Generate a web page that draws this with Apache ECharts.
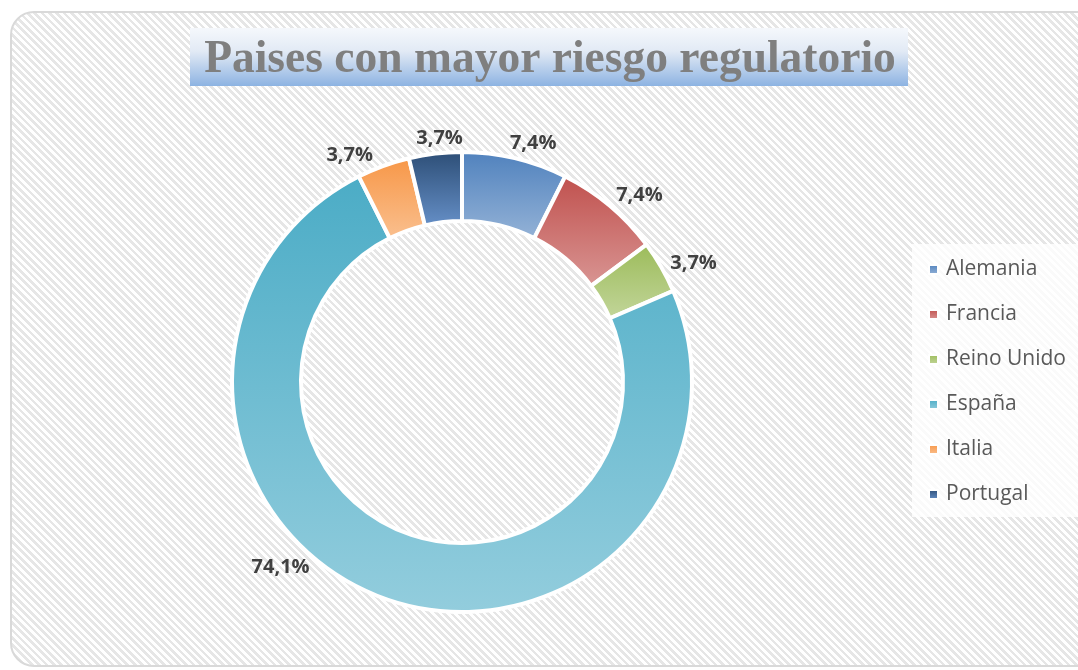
<!DOCTYPE html>
<html>
<head>
<meta charset="utf-8">
<title>Paises con mayor riesgo regulatorio</title>
<script src="https://cdn.jsdelivr.net/npm/echarts@6/dist/echarts.min.js"></script>
<style>
  html, body { margin: 0; padding: 0; background: #fff; }
  .wrap { position: relative; width: 1078px; height: 670px; overflow: hidden; }
  .frame {
    position: absolute; left: 10px; top: 11px; width: 1100px; height: 652px;
    border: 2px solid #d9d9d9; border-radius: 24px;
    background: repeating-linear-gradient(45deg, #ffffff 0px, #ffffff 2.6px, #e6e6e6 2.6px, #e6e6e6 5.2px);
  }
  #main { position: absolute; left: 0; top: 0; width: 1078px; height: 670px; }
</style>
</head>
<body>
<div class="wrap">
  <div class="frame"></div>
  <div id="main"></div>
</div>
<script>
// datos
var categories = ['Alemania', 'Francia', 'Reino Unido', 'España', 'Italia', 'Portugal']
var counts = [2, 2, 1, 20, 1, 1]

// colores (arriba -> abajo del degradado)
var topColors = ['#4F81BD', '#C0504D', '#9BBB59', '#4BACC6', '#F79646', '#2C4D75']
var bottomColors = ['#95B3D7', '#D99694', '#C3D69B', '#93CDDD', '#FAC090', '#6690C8']

var center = [462, 382]
var outerRadius = 228
var labelGap = 9
// ajuste manual de etiquetas (grados / px), como en la hoja original
var labelShift = { 0: 3, 1: 3, 2: 2, 3: 25, 4: -6, 5: 1.5 }
var labelGapFix = { 3: -8 }

var total = counts.reduce(function (a, b) { return a + b }, 0)

function pct(v) {
  return (v / total * 100).toFixed(1).replace('.', ',') + '%'
}

var pieData = categories.map(function (name, i) {
  return {
    name: name,
    value: counts[i],
    itemStyle: {
      color: new echarts.graphic.LinearGradient(0, 0, 0, 1, [
        { offset: 0, color: topColors[i] },
        { offset: 1, color: bottomColors[i] }
      ])
    }
  }
})

// angulo medio de cada sector, en grados desde arriba, sentido horario
function midAngle(index) {
  var before = 0
  for (var i = 0; i < index; i++) before += counts[i]
  return (before + counts[index] / 2) / total * 360
}

var chart = echarts.init(document.getElementById('main'))

var option = {
  backgroundColor: 'transparent',
  title: {
    text: 'Paises con mayor riesgo regulatorio',
    left: 545,
    top: 32,
    textAlign: 'center',
    textStyle: {
      fontFamily: 'Liberation Serif',
      fontWeight: 'bold',
      fontSize: 45.5,
      color: '#7F7F7F'
    }
  },
  graphic: [
    {
      type: 'rect',
      z: -1,
      shape: { x: 190, y: 28, width: 718, height: 58 },
      style: {
        fill: new echarts.graphic.LinearGradient(0, 0, 0, 1, [
          { offset: 0, color: '#F5F8FC' },
          { offset: 0.4, color: '#E2EAF5' },
          { offset: 1, color: '#8DB3E2' }
        ])
      }
    }
  ],
  legend: {
    orient: 'vertical',
    left: 912,
    top: 244,
    padding: [15, 80, 12, 16],
    backgroundColor: 'rgba(255,255,255,0.8)',
    itemWidth: 9,
    itemHeight: 9,
    itemGap: 24,
    icon: 'rect',
    data: categories,
    textStyle: {
      fontFamily: 'Open Sans',
      fontSize: 21,
      lineHeight: 21,
      color: '#595959',
      padding: [0, 0, 0, 3]
    }
  },
  series: [
    {
      name: 'Paises',
      type: 'pie',
      center: center,
      radius: [161, outerRadius + 2],
      startAngle: 90,
      clockwise: true,
      avoidLabelOverlap: false,
      itemStyle: {
        borderColor: '#ffffff',
        borderWidth: 4
      },
      label: {
        show: true,
        position: 'outside',
        formatter: function (p) { return pct(p.value) },
        fontFamily: 'Open Sans',
        fontWeight: 'bold',
        fontSize: 20,
        color: '#404040'
      },
      labelLine: { show: false },
      // etiqueta fuera del borde, a distancia fija de la caja de texto
      labelLayout: function (params) {
        var i = params.dataIndex
        var a = (midAngle(i) + (labelShift[i] || 0)) * Math.PI / 180
        var sx = Math.sin(a)
        var sy = -Math.cos(a)
        var rect = params.labelRect
        var ext = Math.abs(sx) * rect.width / 2 + Math.abs(sy) * rect.height / 2
        var r = outerRadius + labelGap + (labelGapFix[i] || 0) + ext
        return {
          x: center[0] + r * sx,
          y: center[1] + r * sy + 4,
          align: 'center',
          verticalAlign: 'middle'
        }
      },
      emphasis: { disabled: true },
      data: pieData
    }
  ]
}

chart.setOption(option)
</script>
</body>
</html>
